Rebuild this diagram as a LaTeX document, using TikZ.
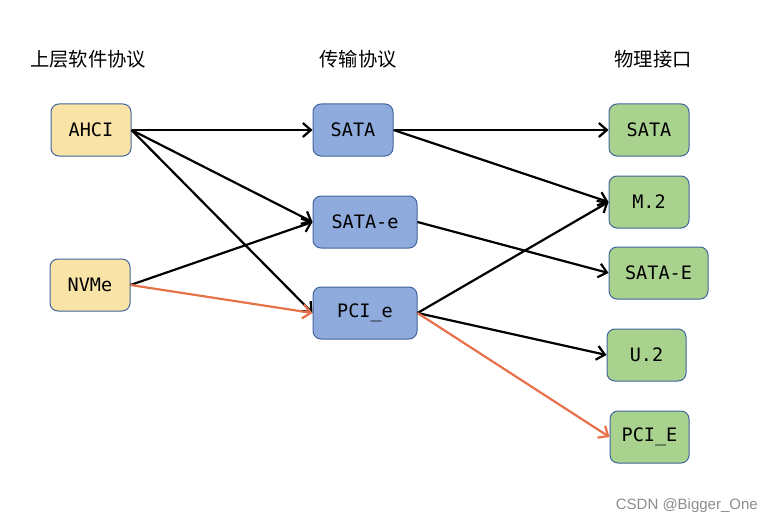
\documentclass[tikz,border=0pt]{standalone}
\usepackage{fontspec}
\setmonofont{DejaVu Sans Mono}
\newfontfamily\cjk{Noto Sans CJK SC}
\newfontfamily\wmfont{Liberation Sans}
\usetikzlibrary{arrows.meta}
\definecolor{yel}{HTML}{FAE3A6}
\definecolor{blu}{HTML}{8FAADC}
\definecolor{grn}{HTML}{A9D28E}
\definecolor{edge}{HTML}{41659C}
\definecolor{org}{HTML}{E8704A}
\tikzset{
  box/.style={draw=edge, line width=1pt, rounded corners=8pt, minimum height=52pt, inner sep=0pt, font=\ttfamily\fontsize{18.5}{20}\selectfont},
  ybox/.style={box, fill=yel},
  bbox/.style={box, fill=blu},
  gbox/.style={box, fill=grn},
  head/.style={font=\cjk\fontsize{19.3}{21}\selectfont, inner sep=0pt},
  conn/.style={line width=2.2pt, -{Straight Barb[length=8pt,width=14pt,line width=2.2pt]}},
  oconn/.style={conn, draw=org, -{Straight Barb[length=8pt,width=14pt,line width=2.2pt,color=org]}},
}
\begin{document}
\begin{tikzpicture}[x=1pt,y=-1pt]
\useasboundingbox (0,0) rectangle (773,524);
\node[head] (h1) at (88,59) {上层软件协议};
\node[head] (h2) at (358,59) {传输协议};
\node[head] (h3) at (653,59) {物理接口};

\node[ybox, minimum width=80pt] (ahci) at (91,130) {AHCI};
\node[ybox, minimum width=80pt] (nvme) at (90,285) {NVMe};

\node[bbox, minimum width=80pt] (sata) at (353,130) {SATA};
\node[bbox, minimum width=104pt] (satae) at (365,222) {SATA-e};
\node[bbox, minimum width=104pt] (pcie) at (365,313) {PCI\_e};

\node[gbox, minimum width=80pt] (gsata) at (649,130) {SATA};
\node[gbox, minimum width=80pt] (m2) at (649,202) {M.2};
\node[gbox, minimum width=99pt] (gsatae) at (658.5,273) {SATA-E};
\node[gbox, minimum width=79pt] (u2) at (646.5,355) {U.2};
\node[gbox, minimum width=79pt] (gpcie) at (649.5,437) {PCI\_E};

\draw[conn] (ahci.east) -- (sata.west);
\draw[conn] (ahci.east) -- (satae.west);
\draw[conn] (ahci.east) -- (pcie.west);
\draw[conn] (nvme.east) -- (satae.west);
\draw[oconn] (nvme.east) -- (pcie.west);

\draw[conn] (sata.east) -- (gsata.west);
\draw[conn] (sata.east) -- (m2.west);
\draw[conn] (satae.east) -- (gsatae.west);
\draw[conn] (pcie.east) -- (m2.west);
\draw[conn] (pcie.east) -- (u2.west);
\draw[oconn] (pcie.east) -- (gpcie.west);

\node[font=\wmfont\fontsize{15}{16}\selectfont, text=black!45, inner sep=0pt, anchor=east] (wm) at (758,506) {CSDN @Bigger\_One};
\end{tikzpicture}
\end{document}
